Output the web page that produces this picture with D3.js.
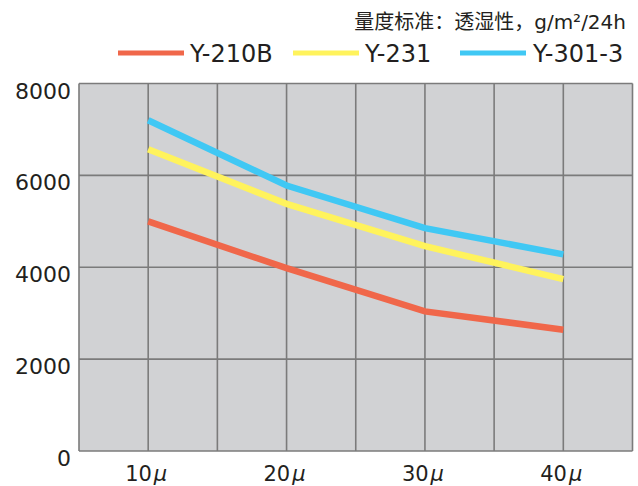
<!DOCTYPE html>
<html>
<head>
<meta charset="utf-8">
<script src="https://cdn.jsdelivr.net/npm/d3@7"></script>
<style>
  body { margin: 0; background: #fff; }
  svg text { font-family: "DejaVu Sans", "Noto Sans CJK SC", sans-serif; fill: #231f20; }
</style>
</head>
<body>
<div id="chart"></div>
<script>
const thickness = [10, 20, 30, 40];
const xTickLabels = ["10", "20", "30", "40"];
const yTicks = [0, 2000, 4000, 6000, 8000];
const seriesNames = ["Y-210B", "Y-231", "Y-301-3"];
const y210B = [5000, 3980, 3040, 2640];
const y231 = [6570, 5380, 4460, 3740];
const y3013 = [7200, 5780, 4850, 4280];
const seriesColors = ["#f0674a", "#fff35c", "#40c8f4"];
const titleText = "量度标准：透湿性，g/m²/24h";

const SIZE = { WIDTH: 638, HEIGHT: 486 };
const PLOT = { left: 79, right: 632.5, top: 83.5, bottom: 451 };

const svg = d3
  .select("#chart")
  .append("svg")
  .attr("width", SIZE.WIDTH)
  .attr("height", SIZE.HEIGHT);

const x = d3.scaleLinear().domain([5, 45]).range([PLOT.left, PLOT.right]);
const y = d3.scaleLinear().domain([0, 8000]).range([PLOT.bottom, PLOT.top]);

// plot background
svg
  .append("rect")
  .attr("x", PLOT.left)
  .attr("y", PLOT.top)
  .attr("width", PLOT.right - PLOT.left)
  .attr("height", PLOT.bottom - PLOT.top)
  .attr("fill", "#d1d2d4");

// grid
const grid = svg.append("g").attr("stroke", "#7b7b7b").attr("stroke-width", 1.6);
grid
  .selectAll("line.v")
  .data(d3.range(5, 46, 5))
  .enter()
  .append("line")
  .attr("x1", (d) => x(d))
  .attr("x2", (d) => x(d))
  .attr("y1", PLOT.top)
  .attr("y2", PLOT.bottom);
grid
  .selectAll("line.h")
  .data(yTicks)
  .enter()
  .append("line")
  .attr("x1", PLOT.left)
  .attr("x2", PLOT.right)
  .attr("y1", (d) => y(d))
  .attr("y2", (d) => y(d));

// y tick labels
svg
  .selectAll("text.ytick")
  .data(yTicks)
  .enter()
  .append("text")
  .attr("class", "ytick")
  .attr("x", 71)
  .attr("y", (d) => y(d) + 15)
  .attr("text-anchor", "end")
  .style("font-size", "22px")
  .text((d) => d);

// x tick labels
const xl = svg
  .selectAll("text.xtick")
  .data(thickness)
  .enter()
  .append("text")
  .attr("class", "xtick")
  .attr("x", (d) => x(d) - 2)
  .attr("y", 481)
  .attr("text-anchor", "middle")
  .style("font-size", "21px");
xl.append("tspan").text((d, i) => xTickLabels[i]);
xl.append("tspan").attr("font-style", "italic").attr("dx", 2).text("μ");

// lines
const allSeries = [y210B, y231, y3013];
const line = d3
  .line()
  .x((d, i) => x(thickness[i]))
  .y((d) => y(d));

svg
  .selectAll("path.series")
  .data(allSeries)
  .enter()
  .append("path")
  .attr("class", "series")
  .attr("d", (d) => line(d))
  .attr("fill", "none")
  .attr("stroke", (d, i) => seriesColors[i])
  .attr("stroke-width", 6.5);

// legend
const legendLineX = [118, 293, 460];
const legendTextX = [190, 365, 533];
const legend = svg.append("g");
legend
  .selectAll("line")
  .data(seriesNames)
  .enter()
  .append("line")
  .attr("x1", (d, i) => legendLineX[i])
  .attr("x2", (d, i) => legendLineX[i] + 66)
  .attr("y1", 53)
  .attr("y2", 53)
  .attr("stroke", (d, i) => seriesColors[i])
  .attr("stroke-width", 5);
legend
  .selectAll("text")
  .data(seriesNames)
  .enter()
  .append("text")
  .attr("x", (d, i) => legendTextX[i])
  .attr("y", 62)
  .style("font-size", "24px")
  .text((d) => d);

// title
svg
  .append("text")
  .attr("x", 626)
  .attr("y", 29)
  .attr("text-anchor", "end")
  .style("font-size", "20px")
  .text(titleText);
</script>
</body>
</html>
